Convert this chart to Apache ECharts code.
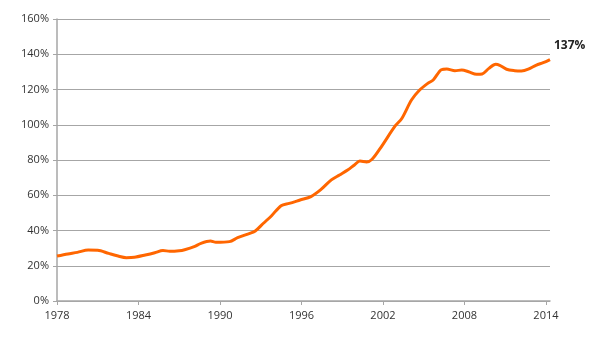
<!DOCTYPE html>
<html><head><meta charset="utf-8">
<script src="https://cdn.jsdelivr.net/npm/echarts@6/dist/echarts.min.js"></script>
<style>html,body{margin:0;padding:0;background:#fff}#c{width:595px;height:343px}</style>
</head><body><div id="c"></div>
<script>
const years = [1978.0,1978.8,1979.5,1980.3,1981.0,1981.8,1982.5,1983.1,1983.7,1984.5,1985.2,1985.8,1986.3,1987.0,1987.4,1988.1,1988.6,1989.3,1989.7,1990.7,1991.3,1992.2,1992.6,1993.2,1993.8,1994.5,1995.1,1995.9,1996.7,1997.4,1998.2,1998.8,1999.4,1999.9,2000.3,2000.8,2001.2,2001.8,2002.9,2003.4,2004.1,2004.7,2005.3,2005.7,2006.3,2006.7,2007.3,2007.8,2008.3,2008.9,2009.3,2009.8,2010.3,2010.6,2011.1,2011.7,2012.2,2012.7,2013.3,2013.8,2014.3];
const values = [25.5,26.7,27.6,28.9,28.8,27.0,25.5,24.6,24.8,26.1,27.4,28.7,28.2,28.5,29.1,30.8,32.7,34.0,33.3,33.7,35.9,38.4,39.7,44.1,48.4,54.1,55.4,57.3,59.2,63.0,68.7,71.5,74.3,77.2,79.4,78.9,80.4,86.6,99.3,103.7,114.0,119.7,123.5,125.4,131.2,131.6,130.7,131.0,130.1,128.6,128.8,132.0,134.3,133.7,131.5,130.7,130.5,131.5,133.9,135.2,137.0];
const xTicks = [1978,1984,1990,1996,2002,2008,2014];
const yTicks = [0,20,40,60,80,100,120,140,160];
const endLabel = '137%';

const data = years.map((y,i)=>[y, values[i]]);
const chart = echarts.init(document.getElementById('c'));
const font = 'Open Sans, Noto Sans, sans-serif';
chart.setOption({
  animation:false,
  grid:{left:57,top:19,right:45,bottom:42},
  xAxis:{type:'value',min:1978,max:2014.3,
    axisLine:{show:true,lineStyle:{color:'#a6a6a6',width:1.5}},
    axisTick:{show:true,length:4,customValues:xTicks,lineStyle:{color:'#a6a6a6'}},
    axisLabel:{customValues:xTicks,color:'#333',fontSize:11,fontFamily:font,margin:9,formatter:v=>String(v)},
    splitLine:{show:false}},
  yAxis:{type:'value',min:0,max:160,interval:20,
    axisLine:{show:true,lineStyle:{color:'#a6a6a6',width:1.5}},
    axisTick:{show:true,length:4,lineStyle:{color:'#a6a6a6'}},
    axisLabel:{color:'#333',fontSize:11,fontFamily:font,margin:8,formatter:v=>v+'%'},
    splitLine:{show:true,lineStyle:{color:'#a6a6a6',width:1}}},
  series:[{type:'line',data:data,showSymbol:false,smooth:0.3,
    lineStyle:{color:'#ff6600',width:3},
    endLabel:{show:true,formatter:()=>endLabel,fontWeight:'bold',fontSize:12,fontFamily:font,color:'#222',offset:[-4,-14]}
  }]
});
</script></body></html>
